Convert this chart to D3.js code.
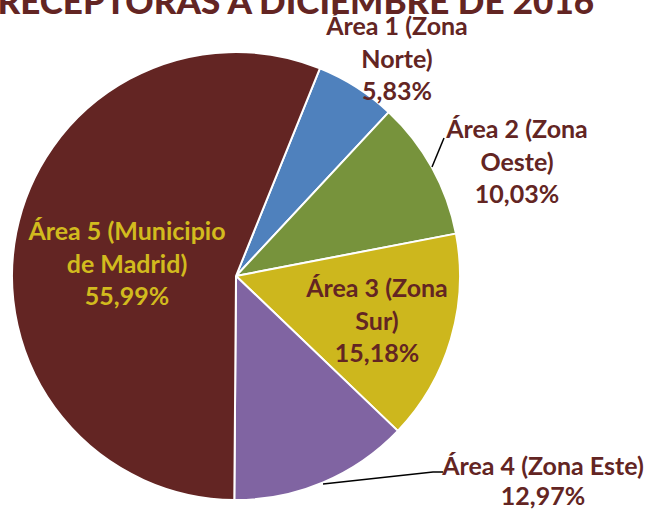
<!DOCTYPE html>
<html><head><meta charset="utf-8">
<script src="https://cdn.jsdelivr.net/npm/d3@7"></script>
<style>body{margin:0;background:#fff}svg{display:block}</style>
</head><body>
<svg id="c" width="650" height="510"></svg>
<script>
const categories = ["Área 1 (Zona Norte)", "Área 2 (Zona Oeste)", "Área 3 (Zona Sur)", "Área 4 (Zona Este)", "Área 5 (Municipio de Madrid)"];
const values = [5.83, 10.03, 15.18, 12.97, 55.99];
const valueLabels = ["5,83%", "10,03%", "15,18%", "12,97%", "55,99%"];
const labelLines = [["Área 1 (Zona", "Norte)"], ["Área 2 (Zona", "Oeste)"], ["Área 3 (Zona", "Sur)"], ["Área 4 (Zona Este)"], ["Área 5 (Municipio", "de Madrid)"]];
const title = "PERSONAS RECEPTORAS A DICIEMBRE DE 2016";

const colors = ["#4F81BD", "#77933C", "#CDB71D", "#8064A2", "#632523"];
const labelColors = ["#632523", "#632523", "#632523", "#632523", "#D2BB1E"];
// label anchor (center x, first baseline y)
const labelPos = [[397, 35], [517, 138], [377, 297], [543, 475], [127, 240]];

const svg = d3.select("#c");
const cx = 236, cy = 276, R = 224;
const font = "Lato, 'Open Sans', sans-serif";

svg.append("text").attr("x", 594).attr("y", 14).attr("text-anchor", "end")
  .attr("font-family", font).attr("font-weight", 900).attr("font-size", 35)
  .attr("fill", "#632523").text(title);

const pie = d3.pie().sort(null).value(d => d).startAngle(22 * Math.PI / 180).endAngle(22 * Math.PI / 180 + 2 * Math.PI);
const arcs = pie(values);
const arc = d3.arc().innerRadius(0).outerRadius(R);
const g = svg.append("g").attr("transform", `translate(${cx},${cy})`);
g.selectAll("path").data(arcs).join("path")
  .attr("d", arc).attr("fill", (d, i) => colors[i])
  .attr("stroke", "#fff").attr("stroke-width", 2).attr("stroke-linejoin", "round");

// leader lines
const leaders = [null, [[432, 167], [444, 138]], null, [[323, 484], [433, 472], [443, 472]], null];
leaders.forEach(pts => {
  if (!pts) return;
  svg.append("path").attr("d", d3.line()(pts)).attr("fill", "none").attr("stroke", "#000").attr("stroke-width", 1.5);
});

const lh = 32.5;
categories.forEach((c, i) => {
  const lines = labelLines[i].concat([valueLabels[i]]);
  const t = svg.append("text").attr("text-anchor", "middle")
    .attr("font-family", font).attr("font-weight", 700).attr("font-size", 25)
    .attr("fill", labelColors[i]);
  lines.forEach((l, j) => {
    t.append("tspan").attr("x", labelPos[i][0]).attr("y", labelPos[i][1] + j * (i === 3 ? 30 : lh)).text(l);
  });
});
</script>
</body></html>
